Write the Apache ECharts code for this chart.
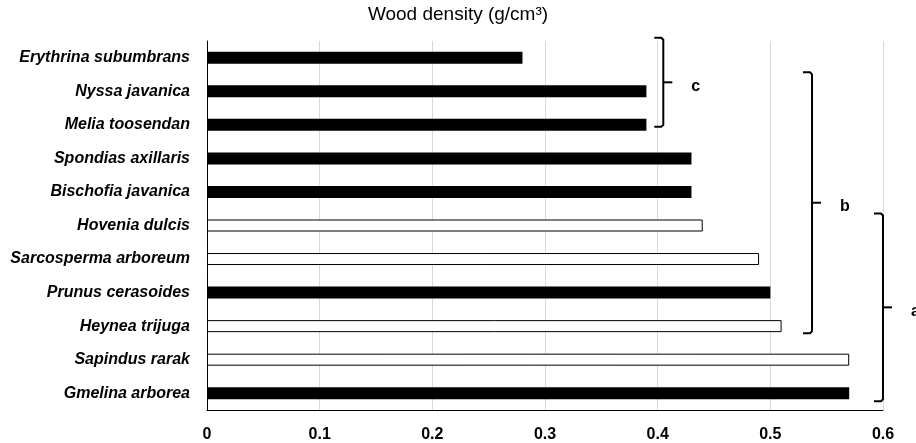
<!DOCTYPE html>
<html>
<head>
<meta charset="utf-8">
<style>
  html, body { margin: 0; padding: 0; background: #fff; }
  #chart { width: 916px; height: 443px; }
</style>
<script src="https://cdn.jsdelivr.net/npm/echarts@6/dist/echarts.min.js"></script>
</head>
<body>
<div id="chart"></div>
<script>
// species, top to bottom
const species = [
  'Erythrina subumbrans',
  'Nyssa javanica',
  'Melia toosendan',
  'Spondias axillaris',
  'Bischofia javanica',
  'Hovenia dulcis',
  'Sarcosperma arboreum',
  'Prunus cerasoides',
  'Heynea trijuga',
  'Sapindus rarak',
  'Gmelina arborea'
]
const density = [0.28, 0.39, 0.39, 0.43, 0.43, 0.44, 0.49, 0.50, 0.51, 0.57, 0.57]
// true = black bar, false = open bar
const filled = [true, true, true, true, true, false, false, true, false, false, true]
const xTicks = [0, 0.1, 0.2, 0.3, 0.4, 0.5, 0.6]

// significance groups (brackets on the right)
const groupNames = ['c', 'b', 'a']
const groupFirst = ['Erythrina subumbrans', 'Nyssa javanica', 'Hovenia dulcis']
const groupLast = ['Melia toosendan', 'Heynea trijuga', 'Gmelina arborea']

// bracket placement (style only)
const bracketX = [0.405, 0.537, 0.6]
const bracketTopPad = [-20, -19, -12]
const bracketBottomPad = [2, 7, 8]

const font = '"Liberation Sans", Arial, sans-serif'

const chart = echarts.init(document.getElementById('chart'), null, { renderer: 'canvas' })

const option = {
  animation: false,
  backgroundColor: '#fff',
  title: {
    text: 'Wood density (g/cm³)',
    left: 'center',
    top: 0,
    textStyle: { fontFamily: font, fontSize: 19, fontWeight: 'normal', color: '#000' }
  },
  grid: { left: 207, right: 33, top: 41, bottom: 27, containLabel: false },
  xAxis: {
    type: 'value',
    min: xTicks[0],
    max: xTicks[xTicks.length - 1],
    interval: 0.1,
    axisLine: { show: true, lineStyle: { color: '#000', width: 1 } },
    axisTick: { show: false },
    splitLine: { show: true, lineStyle: { color: '#d9d9d9', width: 1 } },
    axisLabel: {
      margin: 17,
      fontFamily: font,
      fontSize: 16,
      fontWeight: 'bold',
      color: '#000',
      formatter: v => String(Math.round(v * 10) / 10)
    }
  },
  yAxis: {
    type: 'category',
    inverse: true,
    data: species,
    axisLine: { show: true, lineStyle: { color: '#000', width: 1 } },
    axisTick: { show: false },
    splitLine: { show: false },
    axisLabel: {
      margin: 17,
      fontFamily: font,
      fontSize: 16,
      fontWeight: 'bold',
      fontStyle: 'italic',
      color: '#000'
    }
  },
  series: [
    {
      type: 'bar',
      barWidth: 12,
      data: density.map((v, i) => ({
        value: v,
        itemStyle: filled[i]
          ? { color: '#000', borderColor: '#000', borderWidth: 0 }
          : { color: '#fff', borderColor: '#000', borderWidth: 1 }
      }))
    }
  ]
}

chart.setOption(option)

// brackets drawn from the chart's own scales
function drawBrackets() {
  const elements = []
  groupNames.forEach((name, i) => {
    const x = chart.convertToPixel({ gridIndex: 0 }, [bracketX[i], 0])[0]
    const top = chart.convertToPixel({ gridIndex: 0 }, [0, groupFirst[i]])[1] + bracketTopPad[i]
    const bottom = chart.convertToPixel({ gridIndex: 0 }, [0, groupLast[i]])[1] + bracketBottomPad[i]
    const mid = (top + bottom) / 2
    elements.push({
      type: 'polyline',
      silent: true,
      shape: {
        points: [[x - 9, top], [x - 2, top], [x, top + 2], [x, bottom - 2], [x - 2, bottom], [x - 9, bottom]]
      },
      style: { stroke: '#000', lineWidth: 2, fill: null }
    })
    elements.push({
      type: 'line',
      silent: true,
      shape: { x1: x, y1: mid, x2: x + 9, y2: mid },
      style: { stroke: '#000', lineWidth: 2 }
    })
    elements.push({
      type: 'text',
      silent: true,
      x: x + 28,
      y: mid + 4,
      style: {
        text: name,
        fill: '#000',
        font: 'bold 16px ' + font,
        align: 'left',
        verticalAlign: 'middle'
      }
    })
  })
  chart.setOption({ graphic: elements })
}

drawBrackets()
</script>
</body>
</html>
